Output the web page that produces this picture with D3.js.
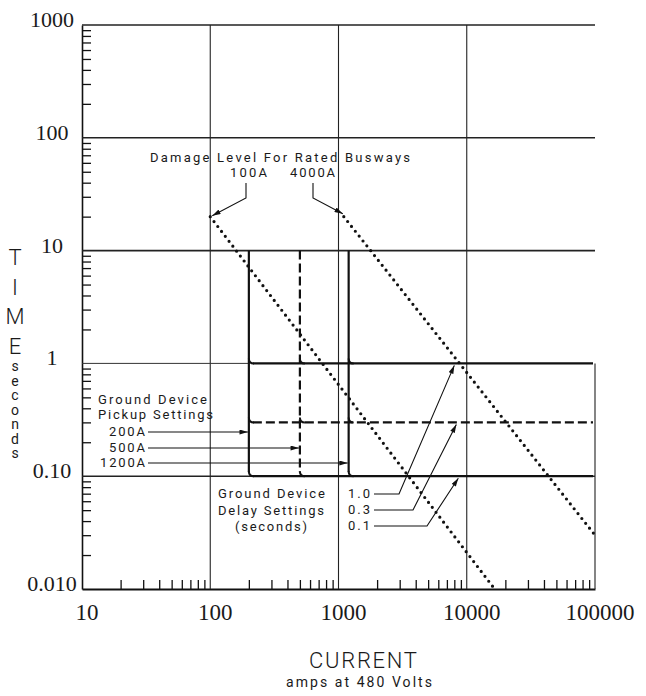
<!DOCTYPE html>
<html>
<head>
  <title>Ground Device Time-Current</title>
  <script src="https://d3js.org/d3.v7.min.js"></script>
  <style>
    body { margin: 0; background: #fff; }
    text { fill: #1a1a1a; }
  </style>
</head>
<body>
  <div id="chart"></div>
  <script>
    // axis ticks
    var xTicks = [10, 100, 1000, 10000, 100000];
    var xTickLabels = ["10", "100", "1000", "10000", "100000"];
    var yTicks = [1000, 100, 10, 1, 0.1, 0.01];
    var yTickLabels = ["1000", "100", "10", "1", "0.10", "0.010"];

    // ground device settings
    var pickups = [200, 500, 1200];
    var pickupLabels = ["200A", "500A", "1200A"];
    var pickupTop = 10;
    var delays = [1.0, 0.3, 0.1];
    var delayLabels = ["1.0", "0.3", "0.1"];

    // busway damage curves (amps, seconds)
    var damage100 = [{ i: 100, t: 20 }, { i: 16500, t: 0.01 }];
    var damage4000 = [{ i: 1100, t: 20 }, { i: 100000, t: 0.03 }];

    var svg = d3.select("#chart")
                .append("svg")
                .attr("width", 646)
                .attr("height", 696);

    var xScale = d3.scaleLog().domain([10, 100000]).range([82, 595]);
    var yScale = d3.scaleLog().domain([0.01, 1000]).range([589, 25]);

    var defs = svg.append("defs");
    defs.append("marker")
        .attr("id", "arrow")
        .attr("viewBox", "0 0 10 6")
        .attr("refX", 10)
        .attr("refY", 3)
        .attr("markerWidth", 9)
        .attr("markerHeight", 5)
        .attr("markerUnits", "userSpaceOnUse")
        .attr("orient", "auto")
      .append("path")
        .attr("d", "M0,0 L10,3 L0,6 Z")
        .attr("fill", "#111");

    // minor ticks on both axes
    var minorX = [], minorY = [];
    for (var k = 1; k < 5; k++) for (var m = 2; m < 10; m++) minorX.push(m * Math.pow(10, k));
    for (var k = -2; k < 3; k++) for (var m = 2; m < 10; m++) minorY.push(m * Math.pow(10, k));

    svg.append("g")
       .attr("transform", "translate(82,0)")
       .call(d3.axisLeft(yScale).tickValues(minorY).tickSize(-9).tickSizeOuter(0).tickFormat(""))
       .call(g => g.selectAll("line").attr("stroke", "#111").attr("stroke-width", 1.3))
       .call(g => g.select(".domain").attr("stroke", "#111").attr("stroke-width", 1.6));

    svg.append("g")
       .attr("transform", "translate(0,589)")
       .call(d3.axisBottom(xScale).tickValues(minorX).tickSize(-9).tickSizeOuter(0).tickFormat(""))
       .call(g => g.selectAll("line").attr("stroke", "#111").attr("stroke-width", 1.3))
       .call(g => g.select(".domain").attr("stroke", "#111").attr("stroke-width", 1.8));

    // grid
    var grid = svg.append("g");
    [100, 1000, 10000].forEach(function (v) {
      grid.append("line")
          .attr("x1", xScale(v)).attr("x2", xScale(v))
          .attr("y1", yScale(1000)).attr("y2", yScale(0.01))
          .attr("stroke", "#222").attr("stroke-width", 1.1);
    });
    [1000, 100, 10, 0.1].forEach(function (v) {
      grid.append("line")
          .attr("x1", xScale(10)).attr("x2", xScale(100000))
          .attr("y1", yScale(v)).attr("y2", yScale(v))
          .attr("stroke", "#222").attr("stroke-width", v == 0.1 ? 1.4 : 1.6);
    });
    grid.append("line")
        .attr("x1", xScale(10)).attr("x2", xScale(pickups[0]))
        .attr("y1", yScale(1)).attr("y2", yScale(1))
        .attr("stroke", "#333").attr("stroke-width", 1);
    grid.append("line")
        .attr("x1", xScale(100000)).attr("x2", xScale(100000))
        .attr("y1", yScale(1)).attr("y2", yScale(0.01))
        .attr("stroke", "#333").attr("stroke-width", 1.2);

    // tick labels
    svg.selectAll("text.xlab")
       .data(xTicks)
       .enter().append("text")
       .attr("class", "xlab")
       .attr("x", d => xScale(d) + 5)
       .attr("y", 620)
       .attr("text-anchor", "middle")
       .style("font", "23px 'Liberation Serif'")
       .text((d, i) => xTickLabels[i]);

    svg.selectAll("text.ylab")
       .data(yTicks)
       .enter().append("text")
       .attr("class", "ylab")
       .attr("x", 52)
       .attr("y", d => yScale(d) + 2)
       .attr("text-anchor", "middle")
       .style("font", "22px 'Liberation Serif'")
       .text((d, i) => yTickLabels[i]);

    // axis titles
    var bigLetters = ["T", "I", "M", "E"];
    bigLetters.forEach(function (c, i) {
      svg.append("text").attr("x", 15).attr("y", 265 + i * 29.5)
         .attr("text-anchor", "middle")
         .style("font", "300 22px Roboto").text(c);
    });
    "seconds".split("").forEach(function (c, i) {
      svg.append("text").attr("x", 15).attr("y", 371 + i * 14.5)
         .attr("text-anchor", "middle")
         .style("font", "14px Roboto").text(c);
    });
    svg.append("text").attr("x", 363).attr("y", 668)
       .attr("text-anchor", "middle").attr("textLength", 108)
       .style("font", "300 22px Roboto").text("CURRENT");
    svg.append("text").attr("x", 359).attr("y", 687)
       .attr("text-anchor", "middle").attr("textLength", 146)
       .style("font", "14px Roboto").text("amps at 480 Volts");

    // damage curves (dotted)
    var line = d3.line().x(d => xScale(d.i)).y(d => yScale(d.t));
    [damage100, damage4000].forEach(function (c) {
      svg.append("path")
         .datum(c)
         .attr("fill", "none")
         .attr("stroke", "#111")
         .attr("stroke-width", 3.2)
         .attr("stroke-linecap", "round")
         .attr("stroke-dasharray", "0 6.2")
         .attr("d", line);
    });

    // ground device curves
    var xEnd = xScale(100000) - 2;
    delays.forEach(function (d, i) {
      svg.append("line")
         .attr("x1", xScale(pickups[0]) + 4).attr("x2", xEnd)
         .attr("y1", yScale(d)).attr("y2", yScale(d))
         .attr("stroke", "#111").attr("stroke-width", 2.2)
         .attr("stroke-dasharray", i == 1 ? "9 4" : null);
    });
    pickups.forEach(function (p, i) {
      var px = xScale(p);
      svg.append("line")
         .attr("x1", px).attr("x2", px)
         .attr("y1", yScale(pickupTop)).attr("y2", yScale(delays[2]) - 4)
         .attr("stroke", "#111").attr("stroke-width", 2.2)
         .attr("stroke-dasharray", i == 1 ? "9 4" : null);
      delays.forEach(function (d) {
        var py = yScale(d);
        svg.append("path")
           .attr("d", `M${px},${py - 5} Q${px},${py} ${px + 5},${py}`)
           .attr("fill", "none").attr("stroke", "#111").attr("stroke-width", 2);
      });
    });

    // annotations
    var ann = svg.append("g").style("font", "13px Roboto");
    function label(txt, x, yy, len, anchor) {
      ann.append("text").attr("x", x).attr("y", yy)
         .attr("textLength", len).attr("lengthAdjust", "spacing")
         .attr("text-anchor", anchor || "start").text(txt);
    }
    function leader(pts) {
      ann.append("path")
         .attr("d", d3.line()(pts))
         .attr("fill", "none").attr("stroke", "#111").attr("stroke-width", 1.1)
         .attr("marker-end", "url(#arrow)");
    }

    label("Damage Level For Rated Busways", 150, 162, 260);
    label("100A", 230, 177, 37);
    label("4000A", 290, 177, 45);
    leader([[246, 183], [246, 198], [xScale(damage100[0].i) + 2, yScale(damage100[0].t) - 1]]);
    leader([[313, 183], [313, 198], [xScale(damage4000[0].i) - 1, yScale(damage4000[0].t) - 3]]);

    label("Ground Device", 98, 404, 109);
    label("Pickup Settings", 98, 419, 115);
    var pickupY = [432, 448, 463];
    pickups.forEach(function (p, i) {
      label(pickupLabels[i], 145, pickupY[i] + 4, i == 2 ? 45 : 36, "end");
      leader([[148, pickupY[i]], [xScale(p) - 1, pickupY[i]]]);
    });

    label("Ground Device", 218, 498, 107);
    label("Delay Settings", 218, 515, 106);
    label("(seconds)", 235, 531, 72);
    var delayY = [494, 510, 526];
    var delayKnee = [399, 413, 427];
    delays.forEach(function (d, i) {
      label(delayLabels[i], 348, delayY[i] + 4, 22);
      leader([[374, delayY[i]], [delayKnee[i], delayY[i]], [xScale(8000) + i * 2, yScale(d) + 2]]);
    });
  </script>
</body>
</html>
